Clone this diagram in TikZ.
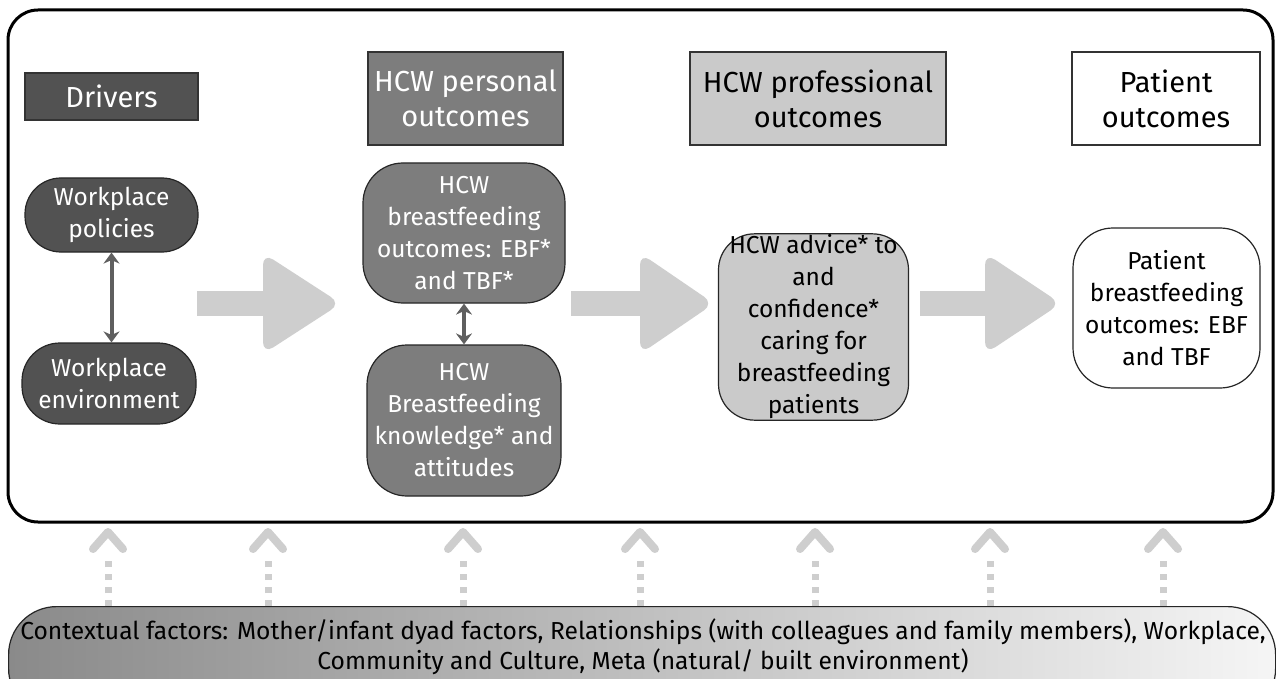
\documentclass[tikz,border=0pt]{standalone}
\usepackage{fontspec}
\setmainfont{Fira Sans}
\usetikzlibrary{positioning, arrows.meta}

\definecolor{darkbox}{RGB}{82,82,82}
\definecolor{midbox}{RGB}{125,125,125}
\definecolor{lightbox}{RGB}{202,202,202}
\definecolor{flowgray}{RGB}{206,206,206}
\definecolor{linkgray}{RGB}{95,95,95}
\definecolor{ctxdark}{RGB}{138,138,138}
\definecolor{ctxlight}{RGB}{245,245,245}

\tikzset{
  hdr/.style={draw=black!80, line width=1.2pt, align=center, inner sep=1pt,
    font=\fontsize{29}{35}\selectfont},
  item/.style={draw=black!85, line width=1.2pt, align=center, inner sep=1pt,
    font=\fontsize{24.5}{32}\selectfont},
  dbl/.style={linkgray, line width=4pt, {Stealth[length=11pt,width=16pt]}-{Stealth[length=11pt,width=16pt]}},
  flow/.style={fill=flowgray, rounded corners=12pt},
  upchev/.style={flowgray, line width=8pt, line cap=round, line join=round},
  updots/.style={flowgray, line width=7pt, dash pattern=on 6pt off 7pt}
}

\begin{document}
\begin{tikzpicture}[x=1pt,y=-1pt]
\clip (0,0) rectangle (1276,679);
\fill[white] (0,0) rectangle (1276,679);

% outer frame
\draw[line width=3pt, rounded corners=30pt] (8,10) rectangle (1273,522);

% column headers
\node[hdr, fill=darkbox, text=white, minimum width=173pt, minimum height=47pt] (drivers) at (111.5,96.5) {Drivers};
\node[hdr, fill=midbox, text=white, minimum width=195pt, minimum height=93pt] (hcwpers) at (465.5,98.5) {HCW personal\\outcomes};
\node[hdr, fill=lightbox, minimum width=256pt, minimum height=93pt] (hcwprof) at (818,98.5) {HCW professional\\outcomes};
\node[hdr, fill=white, minimum width=188pt, minimum height=93pt] (patout) at (1166,98.5) {Patient\\outcomes};

% drivers
\node[item, fill=darkbox, text=white, rounded corners=36pt, minimum width=173pt, minimum height=74pt] (policies) at (111.5,215) {Workplace\\policies};
\node[item, fill=darkbox, text=white, rounded corners=38pt, minimum width=174pt, minimum height=81pt] (environ) at (109,383.5) {Workplace\\environment};

% HCW personal
\node[item, fill=midbox, text=white, rounded corners=40pt, minimum width=202pt, minimum height=140pt] (bfout) at (464,233) {HCW\\breastfeeding\\outcomes: EBF*\\and TBF*};
\node[item, fill=midbox, text=white, rounded corners=40pt, minimum width=194pt, minimum height=151pt] (bfknow) at (464,420.5) {HCW\\Breastfeeding\\knowledge* and\\attitudes};

% HCW professional
\node[item, fill=lightbox, rounded corners=36pt, minimum width=190pt, minimum height=166pt] (advice) at (813.5,327) {HCW advice* to\\and\\confidence*\\caring for\\breastfeeding\\patients};

% patient
\node[item, fill=white, rounded corners=40pt, minimum width=187pt, minimum height=160pt] (patbf) at (1166.5,308) {Patient\\breastfeeding\\outcomes: EBF\\and TBF};

% two-way links
\draw[dbl] (policies.south) -- (policies.south |- environ.north);
\draw[dbl] (bfout.south) -- (bfknow.north);

% block arrows
\foreach \xa/\xb/\xc in {197/263/341, 571/640/714, 920/985/1061}{
  \fill[flowgray] (\xa,291) rectangle (\xb+10,316);
  \fill[flow] (\xb,253) -- (\xc,303.5) -- (\xb,354) -- cycle;
}

% contextual factors
\node[draw=black!85, line width=1.2pt, rounded corners=48pt, left color=ctxdark, right color=ctxlight,
  minimum width=1267pt, minimum height=110pt, anchor=north west] (ctx) at (8,606) {};
\node[align=center, font=\fontsize{24.6}{30}\selectfont, anchor=north] (ctxtext) at (643,615)
  {Contextual factors: Mother/infant dyad factors, Relationships (with colleagues and family members), Workplace,\\
   Community and Culture, Meta (natural/ built environment)};

% dotted up-arrows
\foreach \i/\xp in {1/108, 2/268, 3/463, 4/640, 5/815, 6/990, 7/1163}{
  \coordinate (up\i) at (\xp,532);
  \draw[updots] (ctx.north -| up\i) -- ([yshift=-22pt]up\i);
  \draw[upchev] ([xshift=-15pt, yshift=-17pt]up\i) -- (up\i) -- ([xshift=15pt, yshift=-17pt]up\i);
}
\end{tikzpicture}
\end{document}
